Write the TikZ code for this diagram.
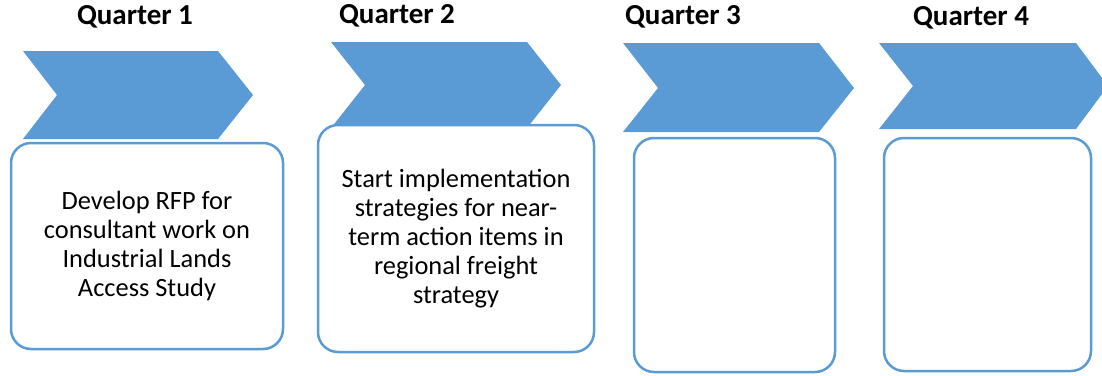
\documentclass[tikz,border=0pt]{standalone}
\usepackage{fontspec}
\setmainfont{Carlito}
\definecolor{qblue}{HTML}{5B9BD5}

\begin{document}
\begin{tikzpicture}[x=0.5pt, y=-0.5pt,
  qtitle/.style={font=\fontsize{14.5}{17}\selectfont\bfseries, inner sep=0pt},
  qbox/.style={draw=qblue, line width=1.25pt, fill=white, rounded corners=10pt,
               align=center, inner sep=0pt, font=\fontsize{13.2}{14.5}\selectfont}]

\useasboundingbox (0,0) rectangle (1102,375);

% -------- Quarter titles -----------
\node [qtitle] (q1) at (135,17) {Quarter 1};
\node [qtitle] (q2) at (397,16) {Quarter 2};
\node [qtitle] (q3) at (683,17) {Quarter 3};
\node [qtitle] (q4) at (971,18) {Quarter 4};

% -------- Chevrons -----------
\fill [qblue] (23,51) -- (218,51) -- (253,95) -- (218,139) -- (23,139) -- (57,95) -- cycle;
\fill [qblue] (331,42) -- (527,42) -- (561,85) -- (527,128) -- (331,128) -- (365,85) -- cycle;
\fill [qblue] (623,43) -- (819,43) -- (854,88) -- (819,132) -- (623,132) -- (658,88) -- cycle;
\fill [qblue] (879,43) -- (1076,43) -- (1108,86) -- (1076,129) -- (879,129) -- (913,86) -- cycle;

% -------- Boxes -----------
\node [qbox, minimum width=136pt, minimum height=103pt] (box1) at (147,246)
  {Develop RFP for\\consultant work on\\Industrial Lands\\Access Study};
\node [qbox, minimum width=138pt, minimum height=113.5pt] (box2) at (456,238.5)
  {Start implementation\\strategies for near-\\term action items in\\regional freight\\strategy};
\node [qbox, minimum width=100.5pt, minimum height=117pt] (box3) at (734.5,255) {};
\node [qbox, minimum width=103.5pt, minimum height=116.5pt] (box4) at (987.5,254.5) {};

\end{tikzpicture}
\end{document}
